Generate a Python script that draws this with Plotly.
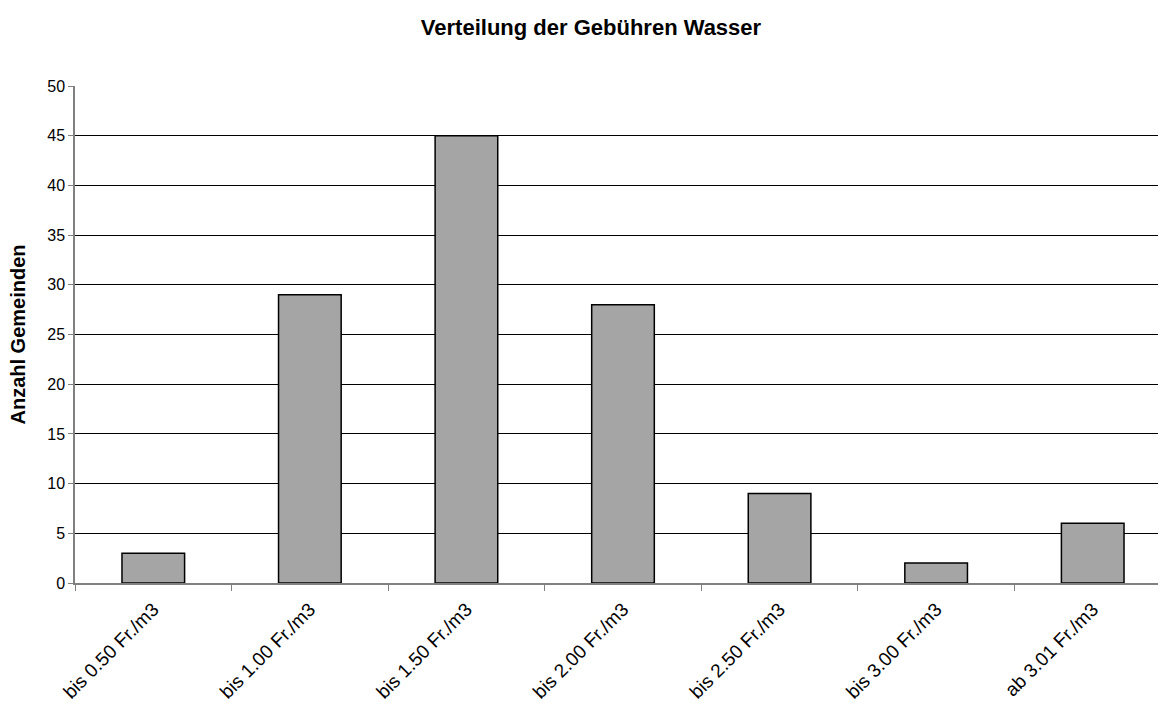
import plotly.graph_objects as go

categories = ["bis 0.50 Fr./m3", "bis 1.00 Fr./m3", "bis 1.50 Fr./m3", "bis 2.00 Fr./m3",
              "bis 2.50 Fr./m3", "bis 3.00 Fr./m3", "ab 3.01 Fr./m3"]
values = [3, 29, 45, 28, 9, 2, 6]
y_ticks = [0, 5, 10, 15, 20, 25, 30, 35, 40, 45, 50]

fig = go.Figure(go.Bar(
    x=categories, y=values, width=0.4,
    marker=dict(color="#a5a5a5", line=dict(color="black", width=1.5)),
))

font = "Liberation Sans, Arial, sans-serif"
# page body has an 8px margin, so figure coordinates are offset by 8px
L, T, B, R = 67, 78, 132, 3
plot_w = 1166 - L - R
fig.update_layout(
    width=1166, height=707,
    margin=dict(l=L, r=R, t=T, b=B),
    paper_bgcolor="white", plot_bgcolor="white",
    showlegend=False,
    title=dict(text="<b>Verteilung der Gebühren Wasser</b>", x=0.5, xanchor="center",
               y=1 - 19 / 707, yanchor="middle",
               font=dict(family=font, size=22, color="black")),
    font=dict(family=font, size=16, color="black"),
    annotations=[dict(
        text="<b>Anzahl Gemeinden</b>", textangle=-90,
        xref="paper", yref="paper", x=(9 - L) / plot_w, y=0.5,
        xanchor="center", yanchor="middle", showarrow=False,
        font=dict(family=font, size=20, color="black"),
    )],
)
fig.update_xaxes(
    type="category", range=[-0.5, 6.5], tickangle=-45, automargin=False,
    tickson="boundaries", ticks="outside", ticklen=6, tickcolor="#808080",
    ticklabelstandoff=6,
    showline=True, linecolor="#808080", linewidth=1.5,
    showgrid=False, tickfont=dict(size=19, family=font),
)
fig.update_yaxes(
    range=[0, 50], tickvals=y_ticks, ticks="outside", ticklen=5, tickcolor="#808080",
    automargin=False,
    showline=True, linecolor="#808080", linewidth=1.5,
    showgrid=True, gridcolor="black", gridwidth=1, zeroline=False,
    tickfont=dict(size=16, family=font),
)
fig.write_html("out.html")
